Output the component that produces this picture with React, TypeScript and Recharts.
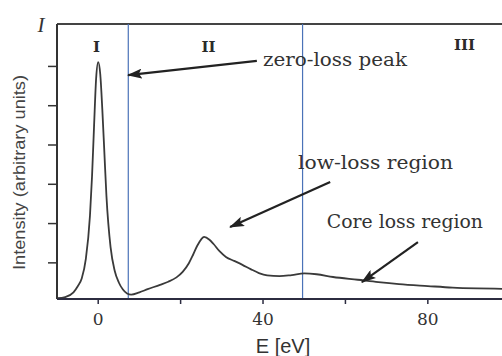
import {
  LineChart,
  Line,
  XAxis,
  YAxis,
  ReferenceLine,
  ReferenceDot,
} from "recharts";

// energy loss (eV) and intensity (arbitrary units)
const energy = [
  -10, -8, -6, -5, -4, -3, -2, -1.5, -1, -0.5, 0, 0.5, 1, 1.5, 2, 3, 4, 5, 6, 7,
  8, 10, 12, 15, 17, 19, 20.5, 22, 23, 24, 25, 25.7, 27, 28, 29.5, 31, 33, 35,
  37, 39, 41, 44, 47, 50, 53, 57, 63, 68, 73, 80, 86, 92, 98,
];
const intensity = [
  0.1, 0.13, 0.25, 0.4, 0.6, 1.1, 2.2, 3.2, 4.5, 5.7, 6.11, 5.8, 4.9, 3.8, 2.7,
  1.4, 0.8, 0.5, 0.32, 0.22, 0.19, 0.25, 0.33, 0.44, 0.52, 0.63, 0.77, 0.99,
  1.2, 1.43, 1.6, 1.66, 1.59, 1.48, 1.29, 1.15, 1.05, 0.95, 0.84, 0.74, 0.68,
  0.66, 0.69, 0.73, 0.71, 0.64, 0.57, 0.51, 0.46, 0.41, 0.37, 0.35, 0.34,
];

const xTicks = [0, 20, 40, 60, 80];
const xTickLabels = ["0", "", "40", "", "80"];
const yTicks = [1, 2, 3, 4, 5, 6];

// region boundaries (eV)
const boundaries = [7.3, 49.6];

const regions = [
  { label: "I", x: -0.41, y: 6.37 },
  { label: "II", x: 26.77, y: 6.37 },
  { label: "III", x: 88.9, y: 6.42 },
];

const notes = [
  { text: "zero-loss peak", x: 40.0, y: 6.01, width: 144, size: 19 },
  { text: "low-loss region", x: 48.5, y: 3.39, width: 155, size: 19 },
  { text: "Core loss region", x: 55.5, y: 1.89, width: 156, size: 18 },
];

const arrows = [
  { from: { x: 38.5, y: 6.14 }, to: { x: 7.23, y: 5.78 } },
  { from: { x: 56.3, y: 3.06 }, to: { x: 32.0, y: 1.91 } },
  { from: { x: 77.6, y: 1.53 }, to: { x: 64.0, y: 0.51 } },
];

const data = energy.map((e, i) => ({ e, y: intensity[i] }));

const serif = "'DejaVu Serif', 'Liberation Serif', serif";
const sans = "'Liberation Sans', Arial, sans-serif";

export default function App() {
  return (
    <div style={{ width: 502, height: 356, background: "#fff" }}>
      <LineChart
        width={502}
        height={356}
        data={data}
        margin={{ top: 24, right: 0, bottom: 0, left: 0 }}
        style={{ position: "absolute", left: 0, top: 0 }}
      >
        <defs>
          <marker
            id="head"
            markerUnits="userSpaceOnUse"
            markerWidth={15}
            markerHeight={10}
            refX={14}
            refY={5}
            orient="auto"
          >
            <path d="M0,0 L15,5 L0,10 L3,5 z" fill="#222" />
          </marker>
        </defs>
        <XAxis
          dataKey="e"
          type="number"
          domain={[-10, 98]}
          ticks={xTicks}
          tickFormatter={(v) => xTickLabels[xTicks.indexOf(v)] ?? ""}
          allowDataOverflow
          height={57}
          tickSize={5}
          tickMargin={9}
          axisLine={{ stroke: "#2c2c40", strokeWidth: 2 }}
          tickLine={{ stroke: "#2c2c40", strokeWidth: 1.5 }}
          tick={{ fontSize: 17, fill: "#333", fontFamily: serif }}
        />
        <YAxis
          type="number"
          domain={[0.08, 7.08]}
          ticks={yTicks}
          tickFormatter={() => ""}
          allowDataOverflow
          width={57}
          tickSize={9}
          axisLine={{ stroke: "#333", strokeWidth: 2 }}
          tickLine={{ stroke: "#333", strokeWidth: 1.5 }}
        />
        <ReferenceLine y={7.08} stroke="#444" strokeWidth={2} />
        {boundaries.map((b) => (
          <ReferenceLine key={b} x={b} stroke="#4a72b8" strokeWidth={1.2} />
        ))}
        <Line
          type="monotone"
          dataKey="y"
          stroke="#3a3a3a"
          strokeWidth={1.8}
          dot={false}
          isAnimationActive={false}
        />
        {arrows.map((a, i) => (
          <ReferenceLine
            key={"a" + i}
            segment={[a.from, a.to]}
            ifOverflow="visible"
            shape={(p: any) => (
              <line
                x1={p.x1}
                y1={p.y1}
                x2={p.x2}
                y2={p.y2}
                stroke="#222"
                strokeWidth={2.2}
                markerEnd="url(#head)"
              />
            )}
          />
        ))}
        {regions.map((r) => (
          <ReferenceDot
            key={r.label}
            x={r.x}
            y={r.y}
            r={0}
            shape={(p: any) => (
              <text
                x={p.cx}
                y={p.cy}
                textAnchor="middle"
                fontFamily={serif}
                fontWeight="bold"
                fontSize={15}
                fill="#2a2a2a"
              >
                {r.label}
              </text>
            )}
          />
        ))}
        {notes.map((n) => (
          <ReferenceDot
            key={n.text}
            x={n.x}
            y={n.y}
            r={0}
            shape={(p: any) => (
              <text
                x={p.cx}
                y={p.cy}
                fontFamily={serif}
                fontSize={n.size}
                textLength={n.width}
                lengthAdjust="spacingAndGlyphs"
                fill="#333"
              >
                {n.text}
              </text>
            )}
          />
        ))}
        <ReferenceDot
          x={-13.9}
          y={6.88}
          r={0}
          ifOverflow="visible"
          shape={(p: any) => (
            <text
              x={p.cx}
              y={p.cy}
              textAnchor="middle"
              fontFamily="'Liberation Serif', serif"
              fontStyle="italic"
              fontSize={21}
              fill="#333"
            >
              I
            </text>
          )}
        />
        <ReferenceDot
          x={-19.2}
          y={3.3}
          r={0}
          ifOverflow="visible"
          shape={(p: any) => (
            <text
              x={p.cx}
              y={p.cy}
              textAnchor="middle"
              dominantBaseline="central"
              transform={`rotate(-90 ${p.cx} ${p.cy})`}
              fontFamily={sans}
              fontSize={17}
              textLength={195}
              lengthAdjust="spacingAndGlyphs"
              fill="#444"
            >
              Intensity (arbitrary units)
            </text>
          )}
        />
        <ReferenceDot
          x={44.85}
          y={-1.29}
          r={0}
          ifOverflow="visible"
          shape={(p: any) => (
            <text
              x={p.cx}
              y={p.cy}
              textAnchor="middle"
              fontFamily={sans}
              fontSize={20}
              fill="#333"
            >
              E [eV]
            </text>
          )}
        />
      </LineChart>
    </div>
  );
}
